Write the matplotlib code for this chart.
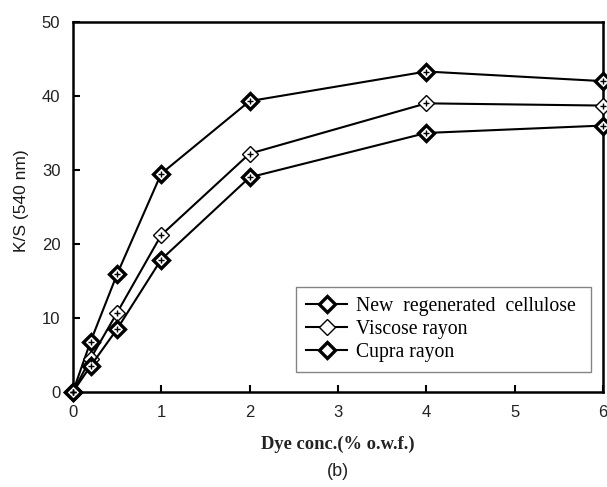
import matplotlib
matplotlib.use("Agg")
import matplotlib.pyplot as plt

x = [0, 0.2, 0.5, 1, 2, 4, 6]
new_regen = [0, 6.8, 15.9, 29.5, 39.3, 43.3, 42.0]
viscose = [0, 4.5, 10.7, 21.2, 32.2, 39.0, 38.7]
cupra = [0, 3.5, 8.5, 17.9, 29.0, 35.0, 36.0]
labels = ["New  regenerated  cellulose", "Viscose rayon", "Cupra rayon"]
xticks = [0, 1, 2, 3, 4, 5, 6]
yticks = [0, 10, 20, 30, 40, 50]

fig = plt.figure(figsize=(6.07, 4.87), dpi=100)
ax = fig.add_axes([0.120, 0.195, 0.8734, 0.760])

series = [(new_regen, 2.4), (viscose, 1.0), (cupra, 2.4)]
handles = []
for (ys, mew), lab in zip(series, labels):
    ln, = ax.plot(x, ys, color="black", lw=1.5, marker="D", markersize=8,
                  markerfacecolor="white", markeredgecolor="black",
                  markeredgewidth=mew, label=lab, zorder=3, clip_on=False)
    ax.plot(x, ys, ls="none", marker="+", markersize=4.5, color="black",
            markeredgewidth=1.0, zorder=4, clip_on=False)
    handles.append(ln)

ax.set_xlim(0, 6)
ax.set_ylim(0, 50)
ax.set_xticks(xticks)
ax.set_yticks(yticks)
ax.tick_params(direction="in", length=5, width=1.5, labelsize=12,
               top=False, right=False)
ax.tick_params(axis="x", pad=9)
ax.tick_params(axis="y", pad=9)
for lab in ax.get_xticklabels() + ax.get_yticklabels():
    lab.set_family("Liberation Sans")
    lab.set_color("#222222")
for s in ax.spines.values():
    s.set_linewidth(1.8)

fig.text(0.035, 1 - 201 / 487, "K/S (540 nm)", family="Liberation Sans",
         fontsize=12.5, rotation=90, ha="center", va="center", color="#1a1a1a")
fig.text(338 / 607, 1 - 444 / 487, "Dye conc.(% o.w.f.)",
         family="Liberation Serif", fontweight="bold", fontsize=13.3,
         ha="center", va="center", color="#222222")
fig.text(338 / 607, 1 - 472 / 487, "(b)", family="Liberation Sans",
         fontsize=13, ha="center", va="center", color="#222222")

leg = ax.legend(handles=handles, loc="lower left",
                bbox_to_anchor=(0.421, 0.054, 0.556, 0.249), mode="expand",
                prop={"family": "Liberation Serif", "size": 14.2},
                frameon=True, fancybox=False, edgecolor="#666666",
                handlelength=2.1, handletextpad=0.42, borderaxespad=0,
                labelspacing=0.2, borderpad=0.5)
leg.get_frame().set_linewidth(1.0)

fig.savefig("out.png", dpi=100)
